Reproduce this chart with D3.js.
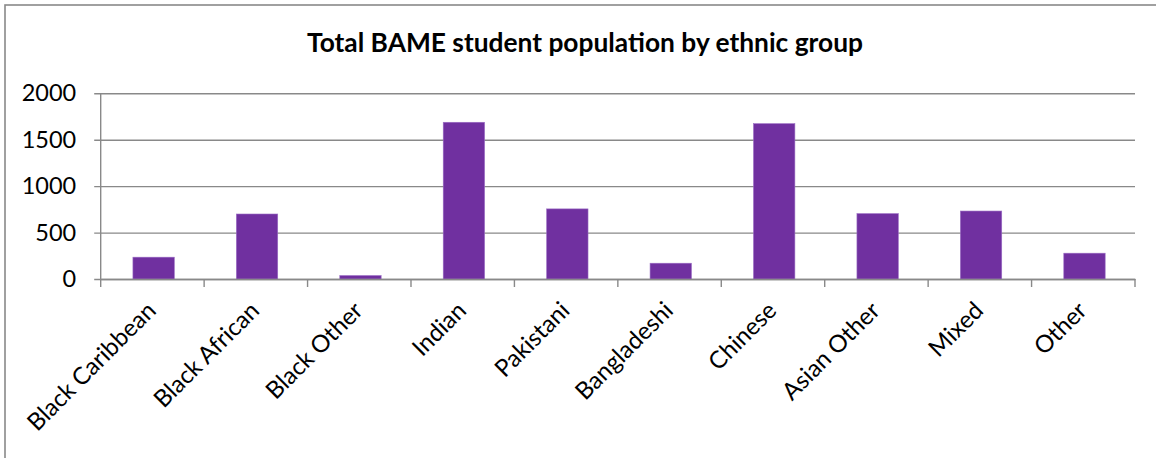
<!DOCTYPE html>
<html><head><meta charset="utf-8">
<script src="https://cdn.jsdelivr.net/npm/d3@7"></script>
<style>body{margin:0;background:#fff}svg{display:block}</style>
</head><body>
<svg id="c" width="1156" height="458"></svg>
<script>
const title = "Total BAME student population by ethnic group";
const categories = ["Black Caribbean","Black African","Black Other","Indian","Pakistani","Bangladeshi","Chinese","Asian Other","Mixed","Other"];
const values = [235, 700, 37, 1688, 755, 170, 1673, 704, 732, 278];
const yTicks = [0, 500, 1000, 1500, 2000];

(function(){
const svg = d3.select("#c");
const font = "Lato, 'Open Sans', sans-serif";
const gridColor = "#898989";
const pL = 100.7, pR = 1135, pT = 93.3, pB = 279;

svg.append("rect").attr("x",5).attr("y",5).attr("width",1170).attr("height",470)
  .attr("fill","#fff").attr("stroke",gridColor).attr("stroke-width",1.6);

const x = d3.scaleBand().domain(categories).range([pL, pR]).padding(0);
const y = d3.scaleLinear().domain([0, 2000]).range([pB, pT]);

const ya = svg.append("g").attr("transform",`translate(${pL},0)`)
  .call(d3.axisLeft(y).tickValues(yTicks).tickSize(-(pR-pL)).tickSizeOuter(0).tickPadding(24.5).tickFormat(d3.format("d")));
ya.select(".domain").remove();
ya.selectAll(".tick line").attr("stroke",gridColor).attr("stroke-width",1.4).attr("x1",-6.5);
ya.selectAll(".tick text").attr("font-family",font).attr("font-size",23.5).attr("fill","#000");

const bw = x.bandwidth()*0.4;
svg.append("g").selectAll("rect").data(values).join("rect")
  .attr("x",(d,i)=>x(categories[i]) + x.bandwidth()/2 - bw/2 + 1.2)
  .attr("y",d=>y(d)).attr("width",bw).attr("height",d=>y(0)-y(d))
  .attr("fill","#7030A0").attr("stroke","#9a6cc4").attr("stroke-width",0.6);

svg.append("line").attr("x1",pL).attr("x2",pL).attr("y1",pT).attr("y2",pB)
  .attr("stroke",gridColor).attr("stroke-width",1.4);

const xa = svg.append("g").attr("transform",`translate(0,${pB})`)
  .call(d3.axisBottom(x).tickSize(0).tickFormat(""));
xa.select(".domain").attr("stroke",gridColor).attr("stroke-width",1.4);
const bounds = categories.map(c=>x(c)).concat([pR]);
xa.selectAll(".bt").data(bounds).join("line").attr("class","bt")
  .attr("x1",d=>d).attr("x2",d=>d).attr("y1",0).attr("y2",8)
  .attr("stroke",gridColor).attr("stroke-width",1.4);

svg.append("g").selectAll("text").data(categories).join("text")
  .attr("transform",d=>`translate(${x(d)+x.bandwidth()/2+5},${pB+33}) rotate(-45)`)
  .attr("text-anchor","end").attr("font-family",font).attr("font-size",24).attr("fill","#000")
  .text(d=>d);

const t = svg.append("text").attr("x",585).attr("y",52).attr("text-anchor","middle")
  .attr("font-family",font).attr("font-weight","bold").attr("font-size",22).attr("fill","#000").text(title);
const w = t.node().getComputedTextLength();
t.attr("font-size", 22*556/w);
})();
</script>
</body></html>
